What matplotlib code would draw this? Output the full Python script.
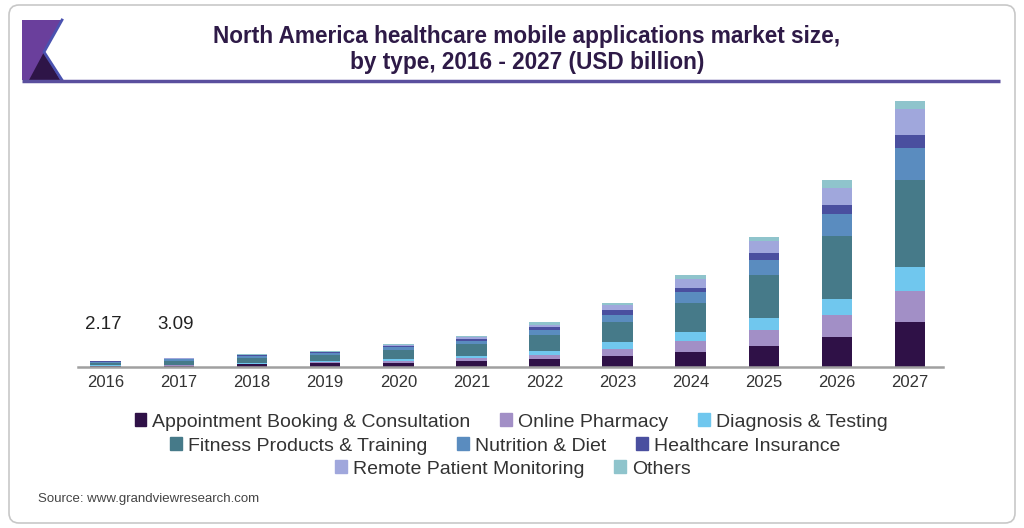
import matplotlib.pyplot as plt
from matplotlib.patches import FancyBboxPatch, Polygon, Patch
import numpy as np

# values (USD billion)
years = ['2016', '2017', '2018', '2019', '2020', '2021', '2022', '2023', '2024', '2025', '2026', '2027']
appointment = [0.25, 0.40, 0.9, 1.3, 1.5, 2.1, 2.6, 3.7, 5.3, 7.3, 10.3, 15.5]
pharmacy = [0.15, 0.20, 0.3, 0.4, 0.7, 1.0, 1.6, 2.6, 3.6, 5.3, 7.5, 10.6]
diagnosis = [0.15, 0.20, 0.3, 0.4, 0.6, 0.8, 1.4, 2.3, 3.1, 4.3, 5.8, 8.4]
fitness = [0.85, 1.20, 1.6, 2.0, 3.1, 4.1, 5.5, 6.9, 10.1, 14.7, 21.6, 30.1]
nutrition = [0.45, 0.60, 0.6, 0.7, 0.9, 1.0, 1.6, 2.5, 3.8, 5.4, 7.4, 10.9]
insurance = [0.12, 0.20, 0.3, 0.3, 0.4, 0.6, 1.0, 1.5, 1.5, 2.3, 3.2, 4.6]
remote = [0.10, 0.15, 0.2, 0.2, 0.4, 0.7, 0.9, 2.0, 3.1, 4.3, 6.0, 8.7]
others = [0.10, 0.14, 0.2, 0.2, 0.3, 0.5, 0.9, 0.6, 1.1, 1.4, 2.6, 2.8]

series = [appointment, pharmacy, diagnosis, fitness, nutrition, insurance, remote, others]
names = ['Appointment Booking & Consultation', 'Online Pharmacy', 'Diagnosis & Testing',
         'Fitness Products & Training', 'Nutrition & Diet', 'Healthcare Insurance',
         'Remote Patient Monitoring', 'Others']
colors = ['#2f1147', '#a28fc6', '#70c7ee', '#467a89', '#5a8cbf', '#4a4f9f', '#a0a7dc', '#8fc4cc']

labelled = {'2016': '2.17', '2017': '3.09'}

plt.rcParams['font.family'] = ['Liberation Sans', 'DejaVu Sans']

fig = plt.figure(figsize=(10.24, 5.28), dpi=100)

# background layer in pixel coords for frame, logo and title
bg = fig.add_axes([0, 0, 1, 1])
bg.set_xlim(0, 1024)
bg.set_ylim(528, 0)
bg.axis('off')
bg.add_patch(FancyBboxPatch((9, 5), 1006, 518, boxstyle='round,pad=0,rounding_size=10',
                            fc='white', ec='#c8c8c8', lw=1.2))
# logo
bg.add_patch(Polygon([(22, 20), (62, 20), (44, 52), (62, 80), (22, 80)], closed=True,
                     fc='#6a3f9c', ec='none'))
bg.add_patch(Polygon([(44, 52), (29, 80), (60, 80)], closed=True, fc='#2e1547', ec='none'))
bg.plot([62, 44, 62], [20, 52, 80], color='#4a52b0', lw=2)
# title underline
bg.plot([22, 1000], [80.5, 80.5], color='#5a4f9e', lw=2.5, solid_capstyle='butt')
bg.text(527, 36, 'North America healthcare mobile applications market size,', ha='center', va='center',
        fontsize=16.3, fontweight='bold', color='#2e1a47')
bg.text(527, 62, 'by type, 2016 - 2027 (USD billion)', ha='center', va='center',
        fontsize=16.3, fontweight='bold', color='#2e1a47')
bg.text(38, 499, 'Source: www.grandviewresearch.com', ha='left', va='center', fontsize=9.5, color='#444444')

# chart
ax = fig.add_axes([78 / 1024, 1 - 367 / 528, 865 / 1024, 275.5 / 528])
ax.patch.set_alpha(0)
x = np.arange(len(years))
bottom = np.zeros(len(years))
for vals, name, c in zip(series, names, colors):
    ax.bar(x, vals, 0.42, bottom=bottom, color=c, label=name)
    bottom += np.array(vals)

for i, yr in enumerate(years):
    if yr in labelled:
        ax.text(i - 0.04, 14.5, labelled[yr], ha='center', va='center', fontsize=13.5, color='#222222')

ax.set_xlim(-0.38, 11.45)
ax.set_ylim(0, 95)
ax.set_xticks(x)
ax.set_xticklabels(years, fontsize=12, color='#333333')
ax.tick_params(axis='x', length=0, pad=6)
ax.set_yticks([])
for s in ['top', 'right', 'left']:
    ax.spines[s].set_visible(False)
ax.spines['bottom'].set_color('#a0a0a0')
ax.spines['bottom'].set_linewidth(1.8)

# legend, three centred rows
rows = [([0, 1, 2], 511, 422), ([3, 4, 5], 505, 446), ([6, 7], 513, 469)]
for idx, cx, cy in rows:
    handles = [Patch(color=colors[k], label=names[k]) for k in idx]
    leg = fig.legend(handles=handles, loc='center', bbox_to_anchor=(cx / 1024, 1 - cy / 528),
                     ncol=len(idx), frameon=False, fontsize=14, handlelength=0.6, handleheight=0.6,
                     handletextpad=0.3, columnspacing=1.55, borderaxespad=0, borderpad=0)
    for t in leg.get_texts():
        t.set_color('#333333')

fig.savefig('out.png', dpi=100, facecolor='white')
